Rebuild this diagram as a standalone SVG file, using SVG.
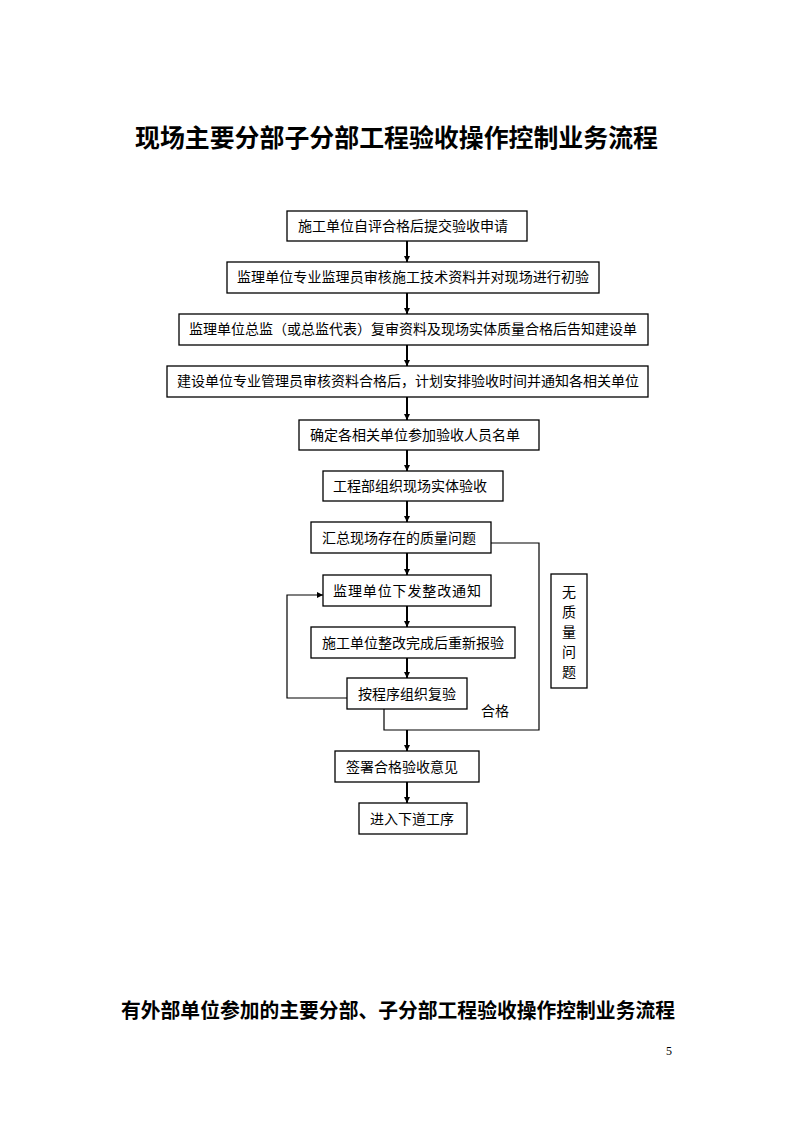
<svg xmlns="http://www.w3.org/2000/svg" width="794" height="1123" viewBox="0 0 794 1123">
<style>
.box{fill:#fff;stroke:#000;stroke-width:1.3}
.t{font-family:"Noto Sans CJK SC","Noto Sans",sans-serif;font-size:14px;fill:#000}
.title{font-family:"Noto Sans CJK SC","Liberation Serif",serif;font-weight:bold;fill:#000}
.arr{stroke:#000;stroke-width:2;fill:none;marker-end:url(#ah)}
.ln{stroke:#000;stroke-width:1.2;fill:none}
</style>
<defs>
<marker id="ah" viewBox="0 0 6 6" refX="6" refY="3" markerWidth="3" markerHeight="3" orient="auto" markerUnits="strokeWidth">
<path d="M0,0 L6,3 L0,6 z" fill="#000"/>
</marker>
<marker id="ah2" viewBox="0 0 6 6" refX="6" refY="3" markerWidth="5" markerHeight="5" orient="auto" markerUnits="strokeWidth">
<path d="M0,0 L6,3 L0,6 z" fill="#000"/>
</marker>
</defs>
<rect width="794" height="1123" fill="#fff"/>
<text class="title" x="135" y="147" font-size="25" textLength="523" lengthAdjust="spacingAndGlyphs">现场主要分部子分部工程验收操作控制业务流程</text>

<g id="connectors">
<line class="arr" x1="407" y1="241" x2="407" y2="262"/>
<line class="arr" x1="407" y1="293" x2="407" y2="314"/>
<line class="arr" x1="407" y1="345" x2="407" y2="366"/>
<line class="arr" x1="407" y1="397" x2="407" y2="420"/>
<line class="arr" x1="407" y1="450" x2="407" y2="471"/>
<line class="arr" x1="407" y1="501" x2="407" y2="522"/>
<line class="arr" x1="407" y1="553" x2="407" y2="575"/>
<line class="arr" x1="407" y1="606" x2="407" y2="627"/>
<line class="arr" x1="407" y1="658" x2="407" y2="678"/>
<polyline class="ln" points="347,698 287,698 287,595 323,595" marker-end="url(#ah2)"/>
<polyline class="ln" points="491,543 539,543 539,730 384,730 384,709"/>
<line class="arr" x1="407" y1="730" x2="407" y2="751"/>
<line class="arr" x1="407" y1="782" x2="407" y2="803"/>
</g>

<g id="n1"><rect class="box" x="287" y="211" width="240" height="30"/><text class="t" x="298" y="231">施工单位自评合格后提交验收申请</text></g>
<g id="n2"><rect class="box" x="227" y="262" width="372" height="31"/><text class="t" x="237" y="282" textLength="352" lengthAdjust="spacing">监理单位专业监理员审核施工技术资料并对现场进行初验</text></g>
<g id="n3"><rect class="box" x="179" y="314" width="469" height="31"/><text class="t" x="189" y="334">监理单位总监（或总监代表）复审资料及现场实体质量合格后告知建设单</text></g>
<g id="n4"><rect class="box" x="167" y="366" width="481" height="31"/><text class="t" x="177" y="386">建设单位专业管理员审核资料合格后，计划安排验收时间并通知各相关单位</text></g>
<g id="n5"><rect class="box" x="299" y="420" width="240" height="30"/><text class="t" x="310" y="440">确定各相关单位参加验收人员名单</text></g>
<g id="n6"><rect class="box" x="323" y="471" width="180" height="30"/><text class="t" x="333" y="491">工程部组织现场实体验收</text></g>
<g id="n7"><rect class="box" x="311" y="522" width="180" height="31"/><text class="t" x="322" y="543">汇总现场存在的质量问题</text></g>
<g id="n8"><rect class="box" x="323" y="575" width="168" height="31"/><text class="t" x="333" y="596" textLength="148" lengthAdjust="spacing">监理单位下发整改通知</text></g>
<g id="n9"><rect class="box" x="311" y="627" width="204" height="31"/><text class="t" x="322" y="648">施工单位整改完成后重新报验</text></g>
<g id="n10"><rect class="box" x="347" y="678" width="120" height="31"/><text class="t" x="358" y="699">按程序组织复验</text></g>
<g id="n11"><rect class="box" x="335" y="751" width="144" height="31"/><text class="t" x="346" y="772">签署合格验收意见</text></g>
<g id="n12"><rect class="box" x="359" y="803" width="108" height="31"/><text class="t" x="370" y="824">进入下道工序</text></g>
<g id="n13"><rect class="box" x="551" y="574" width="36" height="114"/>
<text class="t" x="569" text-anchor="middle"><tspan x="569" y="597">无</tspan><tspan x="569" y="617">质</tspan><tspan x="569" y="637">量</tspan><tspan x="569" y="657">问</tspan><tspan x="569" y="677">题</tspan></text></g>
<g id="lbl"><text class="t" x="481" y="716">合格</text></g>

<text class="title" x="121" y="1018" font-size="20.5" textLength="554" lengthAdjust="spacingAndGlyphs">有外部单位参加的主要分部、子分部工程验收操作控制业务流程</text>
<text x="669" y="1055" font-family="Liberation Serif" font-size="12" text-anchor="middle">5</text>
</svg>
